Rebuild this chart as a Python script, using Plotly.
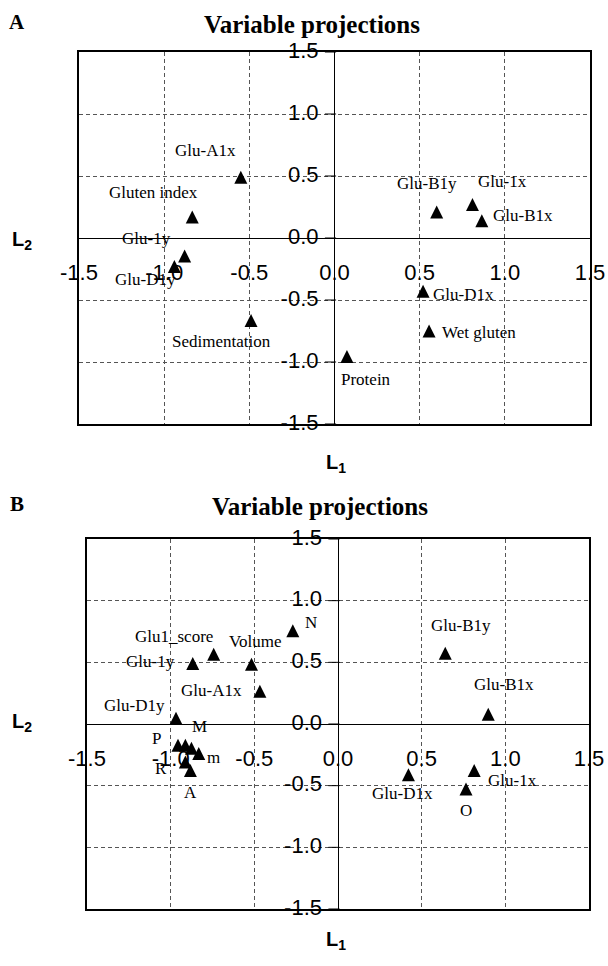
import plotly.graph_objects as go

# ---------------- data ----------------
tick_vals = [-1.5, -1.0, -0.5, 0.0, 0.5, 1.0, 1.5]
tick_text = ["-1.5", "-1.0", "-0.5", "0.0", "0.5", "1.0", "1.5"]

a_labels = ["Glu-A1x", "Gluten index", "Glu-1y", "Glu-D1y", "Glu-B1y", "Glu-1x",
            "Glu-B1x", "Glu-D1x", "Sedimentation", "Wet gluten", "Protein"]
a_L1 = [-0.55, -0.835, -0.88, -0.94, 0.60, 0.81, 0.865, 0.52, -0.49, 0.555, 0.073]
a_L2 = [0.49, 0.17, -0.145, -0.23, 0.21, 0.27, 0.14, -0.43, -0.665, -0.75, -0.955]

b_labels = ["N", "Glu1_score", "Volume", "Glu-1y", "Glu-A1x", "Glu-D1y", "P", "M", "",
            "m", "R", "A", "Glu-B1y", "Glu-B1x", "Glu-D1x", "Glu-1x", "O"]
b_L1 = [-0.27, -0.743, -0.517, -0.868, -0.467, -0.968, -0.956, -0.912, -0.876,
        -0.832, -0.912, -0.882, 0.641, 0.898, 0.421, 0.814, 0.765]
b_L2 = [0.757, 0.566, 0.484, 0.49, 0.265, 0.047, -0.172, -0.172, -0.197,
        -0.24, -0.309, -0.377, 0.574, 0.08, -0.412, -0.377, -0.527]

# ---------------- style ----------------
W, H = 608, 966
# plot boxes in pixels: left, right, top, bottom
boxA = (79, 590, 52, 424)
boxB = (87, 589, 539, 909)

# label offsets in pixels (dx right, dy down) relative to the point
offA = {"Glu-A1x": (-35, -27), "Gluten index": (-39, -24), "Glu-1y": (-38, -17),
        "Glu-D1y": (-29, 13), "Glu-B1y": (-10, -28), "Glu-1x": (30, -23),
        "Glu-B1x": (41, -5), "Glu-D1x": (40, 3), "Sedimentation": (-30, 21),
        "Wet gluten": (50, 2), "Protein": (19, 23)}
offB = {"N": (18, -8), "Glu1_score": (-40, -18), "Volume": (4, -23), "Glu-1y": (-42, -2),
        "Glu-A1x": (-48, -1), "Glu-D1y": (-42, -13), "P": (-22, -7), "M": (14, -19),
        "m": (15, 4), "R": (-24, 6), "A": (0, 22), "Glu-B1y": (16, -28),
        "Glu-B1x": (16, -30), "Glu-D1x": (-6, 19), "Glu-1x": (38, 10), "O": (0, 21)}

MSIZE = 13
serif = "Liberation Serif"
sans = "Liberation Sans"


def px(x):
    return x / W


def py(y):
    return 1 - y / H


fig = go.Figure()


def axis_common():
    return dict(range=[-1.5, 1.5], tickvals=tick_vals, showticklabels=False, ticks="",
                showgrid=True, gridcolor="#555", griddash="4px,3px", gridwidth=1,
                zeroline=True, zerolinecolor="black", zerolinewidth=1.3,
                showline=True, mirror=True, linecolor="black", linewidth=1.5,
                fixedrange=True)


def add_panel(xa, ya, yover, box, L1, L2, labels, offs):
    l, r, t, b = box
    ppu_x = (r - l) / 3.0
    ppu_y = (b - t) / 3.0
    xref = "x" if xa == "xaxis" else "x" + xa[5:]
    yref = "y" if ya == "yaxis" else "y" + ya[5:]
    yoref = "y" + yover[5:]
    ax = axis_common()
    ax.update(domain=[px(l), px(r)], anchor=yref)
    ay = axis_common()
    ay.update(domain=[py(b), py(t)], anchor=xref)
    d = (MSIZE / 2) / ppu_y
    fig.layout[xa] = ax
    fig.layout[ya] = ay
    fig.layout[yover] = dict(overlaying=yref, anchor=xref, range=[-1.5 - d, 1.5 - d],
                             visible=False, fixedrange=True, showgrid=False, zeroline=False)
    # y tick labels along the vertical zero line
    fig.add_trace(go.Scatter(x=[-16 / ppu_x] * len(tick_vals), y=tick_vals, mode="text",
                             text=tick_text, textposition="middle left",
                             textfont=dict(family=sans, size=22, color="black"),
                             cliponaxis=False, hoverinfo="skip", showlegend=False,
                             xaxis=xref, yaxis=yref))
    # x tick labels along the horizontal zero line
    fig.add_trace(go.Scatter(x=tick_vals, y=[-25 / ppu_y] * len(tick_vals), mode="text",
                             text=tick_text, textposition="bottom center",
                             textfont=dict(family=sans, size=22, color="black"),
                             cliponaxis=False, hoverinfo="skip", showlegend=False,
                             xaxis=xref, yaxis=yref))
    # small tick marks on the vertical zero line
    fig.add_trace(go.Scatter(x=[-4 / ppu_x] * len(tick_vals), y=tick_vals, mode="markers",
                             marker=dict(symbol="line-ew", size=8,
                                         line=dict(color="black", width=1)),
                             cliponaxis=False, hoverinfo="skip", showlegend=False,
                             xaxis=xref, yaxis=yref))
    # points
    fig.add_trace(go.Scatter(x=L1, y=L2, mode="markers",
                             marker=dict(symbol="arrow-up", size=MSIZE, color="black",
                                         line=dict(width=0)),
                             cliponaxis=False, hoverinfo="skip", showlegend=False,
                             xaxis=xref, yaxis=yoref))
    for xv, yv, lab in zip(L1, L2, labels):
        if not lab:
            continue
        dx, dy = offs.get(lab, (0, -15))
        fig.add_annotation(x=xv, y=yv, xref=xref, yref=yref, text=lab, showarrow=False,
                           xshift=dx, yshift=-dy, xanchor="center", yanchor="middle",
                           font=dict(family=serif, size=17, color="black"))


add_panel("xaxis", "yaxis", "yaxis3", boxA, a_L1, a_L2, a_labels, offA)
add_panel("xaxis2", "yaxis2", "yaxis4", boxB, b_L1, b_L2, b_labels, offB)

# panel letters, titles, axis titles
for letter, title_y, title_x, lx_y, ly_y in [("A", 22, 312, 463, 240), ("B", 504, 320, 940, 722)]:
    fig.add_annotation(x=px(17), y=py(title_y), xref="paper", yref="paper", text="<b>%s</b>" % letter,
                       showarrow=False, xanchor="center", yanchor="middle",
                       font=dict(family=serif, size=21, color="black"))
    fig.add_annotation(x=px(title_x), y=py(title_y + 2), xref="paper", yref="paper",
                       text="<b>Variable projections</b>", showarrow=False,
                       xanchor="center", yanchor="middle",
                       font=dict(family=serif, size=25, color="black"))
    fig.add_annotation(x=px(336), y=py(lx_y), xref="paper", yref="paper",
                       text="<b>L<sub>1</sub></b>", showarrow=False,
                       xanchor="center", yanchor="middle",
                       font=dict(family=sans, size=20, color="black"))
    fig.add_annotation(x=px(22), y=py(ly_y), xref="paper", yref="paper",
                       text="<b>L<sub>2</sub></b>", showarrow=False,
                       xanchor="center", yanchor="middle",
                       font=dict(family=sans, size=20, color="black"))

fig.update_layout(width=W, height=H, margin=dict(l=0, r=0, t=0, b=0),
                  paper_bgcolor="white", plot_bgcolor="white", showlegend=False)

fig.write_html("out.html")
